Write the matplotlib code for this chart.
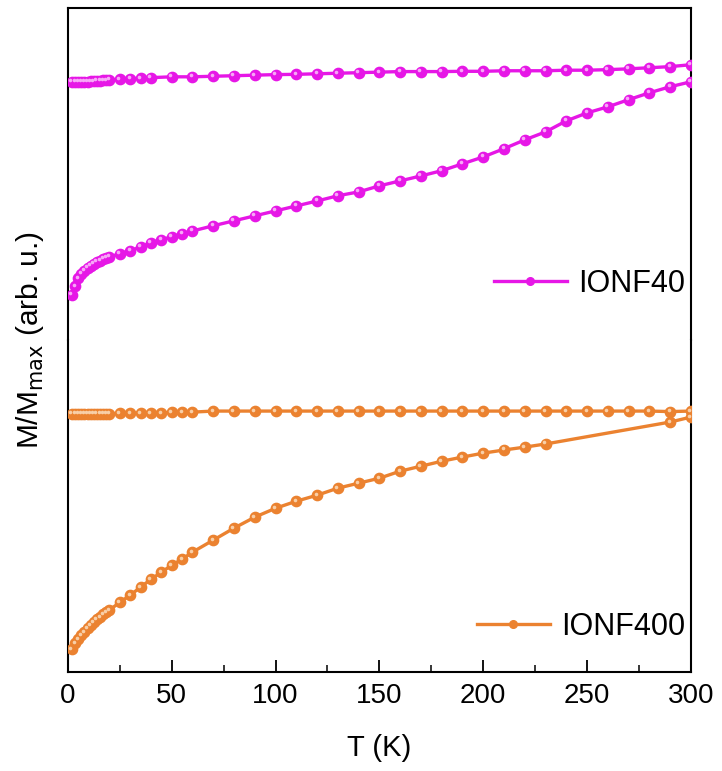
import matplotlib
matplotlib.use('Agg')
import matplotlib.pyplot as plt
from matplotlib.lines import Line2D
from matplotlib.transforms import offset_copy

plt.rcParams['font.family'] = ['Liberation Sans', 'DejaVu Sans']

# temperatures (K)
t_low = [2, 3.5, 5, 6.5, 8, 9.5, 11, 12.5, 14, 15.5, 17, 18.5, 20]
t_mid5 = [25, 30, 35, 40, 45, 50, 55, 60]
t_high = [70, 80, 90, 100, 110, 120, 130, 140, 150, 160, 170, 180, 190,
          200, 210, 220, 230, 240, 250, 260, 270, 280, 290, 300]

# IONF40
t40_fc = t_low + [25, 30, 35, 40] + [50, 60] + t_high
m40_fc = [0.938, 0.938, 0.938, 0.938, 0.938, 0.938, 0.940, 0.940, 0.942,
          0.942, 0.944, 0.944, 0.945,
          0.947, 0.949, 0.951, 0.953,
          0.956, 0.956,
          0.958, 0.960, 0.962, 0.964, 0.965, 0.967, 0.969, 0.971, 0.973,
          0.975, 0.975, 0.975, 0.976, 0.976, 0.978, 0.978, 0.978, 0.980,
          0.980, 0.982, 0.985, 0.989, 0.993, 1.000]
t40_zfc = t_low + t_mid5 + t_high
m40_zfc = [0.164, 0.196, 0.225, 0.240, 0.251, 0.262, 0.269, 0.276, 0.284,
           0.287, 0.295, 0.298, 0.302,
           0.313, 0.324, 0.338, 0.353, 0.364, 0.375, 0.385, 0.396,
           0.415, 0.433, 0.451, 0.469, 0.487, 0.505, 0.524, 0.538, 0.560,
           0.578, 0.596, 0.615, 0.640, 0.665, 0.695, 0.727, 0.756, 0.796,
           0.825, 0.847, 0.873, 0.898, 0.920, 0.938]

# IONF400
t400_fc = t_low + t_mid5 + t_high
m400_fc = [0.989, 0.989, 0.989, 0.989, 0.989, 0.989, 0.989, 0.989, 0.989,
           0.989, 0.989, 0.989, 0.989,
           0.992, 0.992, 0.992, 0.992, 0.992, 0.996, 0.996, 0.996,
           1.000, 1.000, 1.000, 1.000, 1.000, 1.000, 1.000, 1.000, 1.000,
           1.000, 1.000, 1.000, 1.000, 1.000, 1.000, 1.000, 1.000, 1.000,
           1.000, 1.000, 1.000, 1.000, 0.998, 1.000]
t400_zfc = t_low + t_mid5 + [70, 80, 90, 100, 110, 120, 130, 140, 150, 160,
                             170, 180, 190, 200, 210, 220, 230, 290, 300]
m400_zfc = [0.088, 0.111, 0.126, 0.142, 0.153, 0.169, 0.180, 0.192, 0.203,
            0.211, 0.222, 0.230, 0.238,
            0.268, 0.295, 0.326, 0.356, 0.383, 0.410, 0.433, 0.460,
            0.506, 0.552, 0.594, 0.628, 0.655, 0.678, 0.705, 0.724, 0.743,
            0.770, 0.789, 0.808, 0.824, 0.839, 0.851, 0.862, 0.874,
            0.958, 0.977]

c40 = '#E617E6'
c40_hi = '#F7A8F7'
c400 = '#EB8230'
c400_hi = '#F8CFA8'

fig = plt.figure(figsize=(7.22, 7.71), dpi=100)
ax1 = fig.add_axes([0.094, 0.559, 0.863, 0.431])
ax2 = fig.add_axes([0.094, 0.128, 0.863, 0.431], sharex=ax1)


def draw(ax, x, y, c, hi):
    ax.plot(x, y, '-', color=c, lw=2.4, marker='o', ms=7.4,
            mec=c, mfc=c, zorder=3)
    shift = offset_copy(ax.transData, fig=fig, x=-1.1, y=1.1, units='points')
    ax.plot(x, y, 'o', color=hi, ms=2.6, mec='none', transform=shift, zorder=4)


draw(ax1, t40_fc, m40_fc, c40, c40_hi)
draw(ax1, t40_zfc, m40_zfc, c40, c40_hi)
draw(ax2, t400_fc, m400_fc, c400, c400_hi)
draw(ax2, t400_zfc, m400_zfc, c400, c400_hi)

ax1.set_xlim(0, 300)
ax1.set_ylim(0, 1.207)
ax2.set_ylim(0, 1.272)

for ax in (ax1, ax2):
    ax.set_yticks([])
    for s in ax.spines.values():
        s.set_linewidth(1.5)
ax1.spines['bottom'].set_visible(False)
ax2.spines['top'].set_visible(False)
ax1.tick_params(axis='x', bottom=False, labelbottom=False)

ax2.set_xticks([0, 50, 100, 150, 200, 250, 300])
ax2.set_xticks([25, 75, 125, 175, 225, 275], minor=True)
ax2.tick_params(axis='x', which='major', direction='in', length=9,
                width=1.3, labelsize=20, pad=8)
ax2.tick_params(axis='x', which='minor', direction='in', length=5, width=1.1)
ax2.set_xlabel('T (K)', fontsize=21, labelpad=18)

fig.text(0.042, 0.559, r'M/M$_{\mathrm{max}}$ (arb. u.)', rotation=90,
         ha='center', va='center', fontsize=21.5)

h40 = Line2D([], [], color=c40, lw=2.4, marker='o', ms=5.5)
h400 = Line2D([], [], color=c400, lw=2.4, marker='o', ms=5.5)
ax1.legend([h40], ['IONF40'], loc='center right', bbox_to_anchor=(1.0, 0.169),
           frameon=False, fontsize=22, handlelength=2.4, handletextpad=0.35,
           borderaxespad=0.1, borderpad=0.1)
ax2.legend([h400], ['IONF400'], loc='center right', bbox_to_anchor=(1.0, 0.136),
           frameon=False, fontsize=22, handlelength=2.4, handletextpad=0.35,
           borderaxespad=0.1, borderpad=0.1)

fig.savefig('out.png', dpi=100)
